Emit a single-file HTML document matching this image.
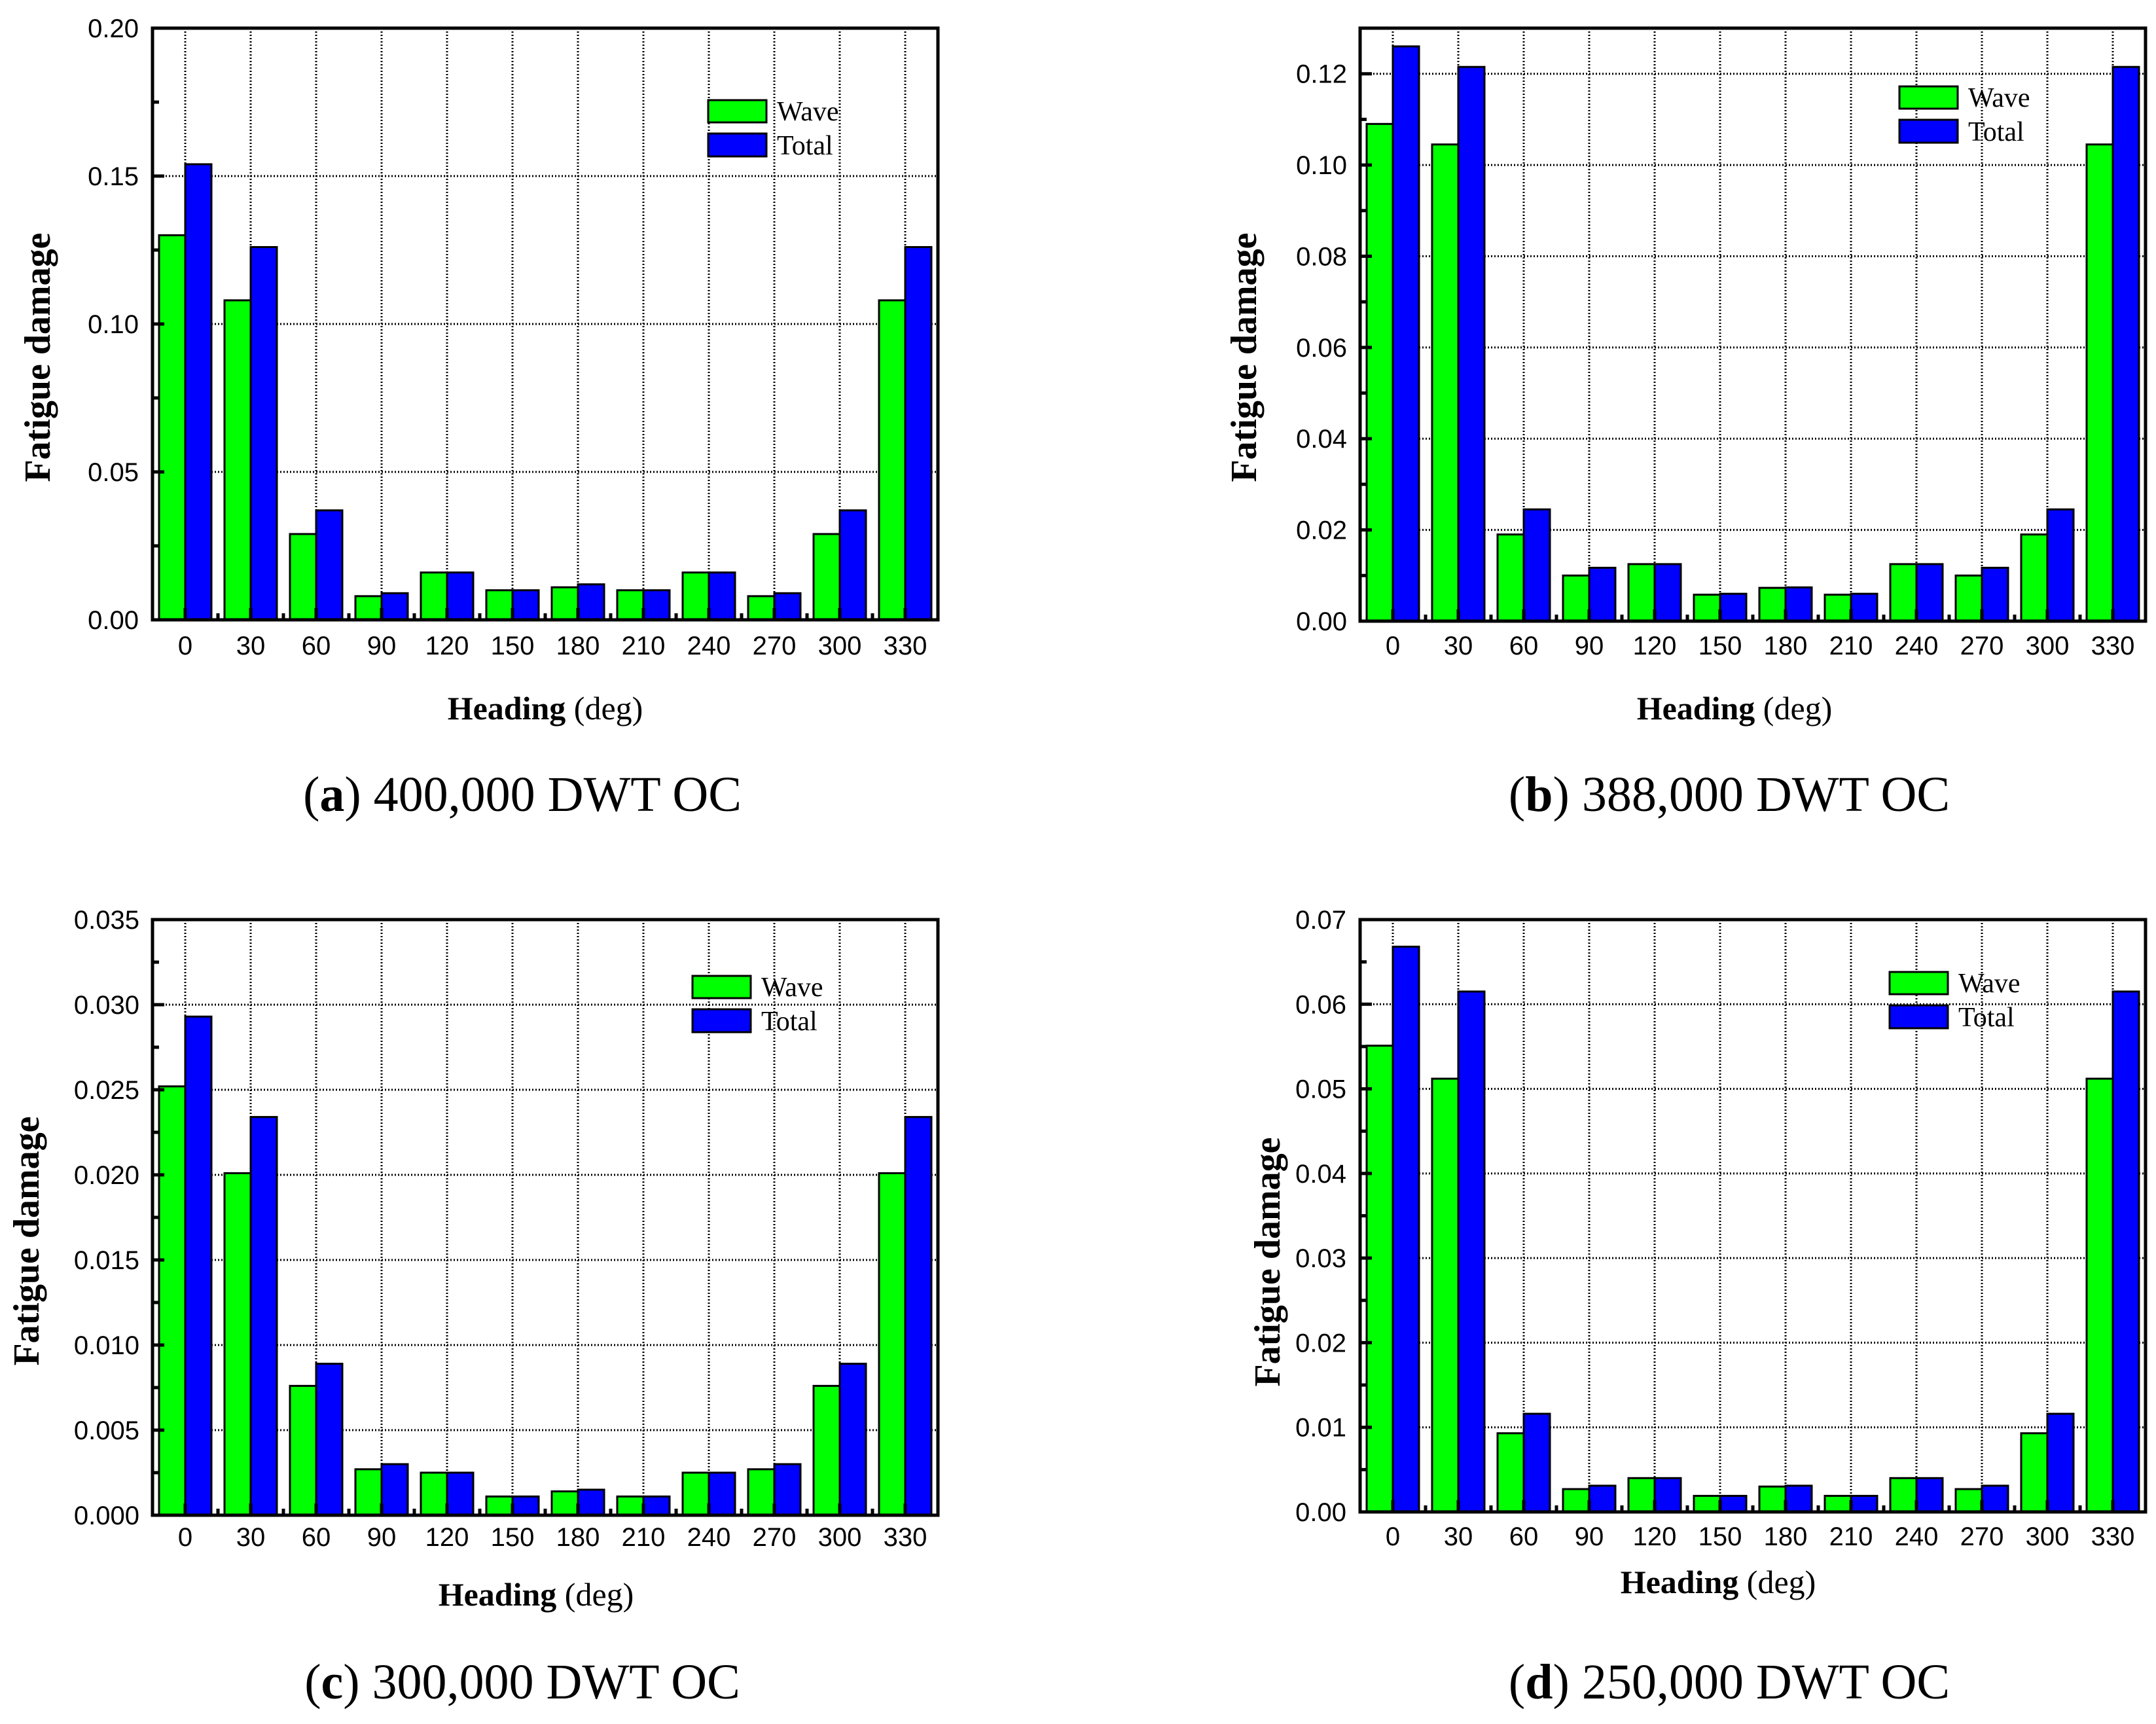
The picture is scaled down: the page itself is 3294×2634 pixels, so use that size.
<!DOCTYPE html>
<html><head><meta charset="utf-8">
<style>
html,body{margin:0;padding:0;background:#fff;}
svg{display:block;}
</style></head>
<body>
<svg id="fig" xmlns="http://www.w3.org/2000/svg" width="3294" height="2634" viewBox="0 0 3294 2634"></svg>
<script>
const categories = ["0","30","60","90","120","150","180","210","240","270","300","330"];
const waveA = [0.130,0.108,0.029,0.008,0.016,0.010,0.011,0.010,0.016,0.008,0.029,0.108];
const totalA = [0.154,0.126,0.037,0.009,0.016,0.010,0.012,0.010,0.016,0.009,0.037,0.126];
const waveB = [0.109,0.1045,0.019,0.010,0.0125,0.0058,0.0073,0.0058,0.0125,0.010,0.019,0.1045];
const totalB = [0.126,0.1215,0.0245,0.0117,0.0125,0.006,0.0074,0.006,0.0125,0.0117,0.0245,0.1215];
const waveC = [0.0252,0.0201,0.0076,0.0027,0.0025,0.0011,0.0014,0.0011,0.0025,0.0027,0.0076,0.0201];
const totalC = [0.0293,0.0234,0.0089,0.0030,0.0025,0.0011,0.0015,0.0011,0.0025,0.0030,0.0089,0.0234];
const waveD = [0.0551,0.0512,0.0093,0.0027,0.0040,0.0019,0.0030,0.0019,0.0040,0.0027,0.0093,0.0512];
const totalD = [0.0668,0.0615,0.0116,0.0031,0.0040,0.0019,0.0031,0.0019,0.0040,0.0031,0.0116,0.0615];
const ticksA = ["0.00","0.05","0.10","0.15","0.20"];
const ticksB = ["0.00","0.02","0.04","0.06","0.08","0.10","0.12"];
const ticksC = ["0.000","0.005","0.010","0.015","0.020","0.025","0.030","0.035"];
const ticksD = ["0.00","0.01","0.02","0.03","0.04","0.05","0.06","0.07"];
const captions = ["400,000 DWT OC","388,000 DWT OC","300,000 DWT OC","250,000 DWT OC"];

const NS = "http://www.w3.org/2000/svg";
const svg = document.getElementById('fig');
function mk(tag, attrs, parent, text){
  const e = document.createElementNS(NS, tag);
  for (const k in attrs) e.setAttribute(k, attrs[k]);
  if (text !== undefined) e.textContent = text;
  (parent||svg).appendChild(e);
  return e;
}

const panels = [
 {id:'a', L:233, T:43, B:947, max:0.20, minor:0.025, ticks:ticksA, wave:waveA, total:totalA,
  ylabR:212, ytX:57, ytY:546, xlY:986, htX:833, htY:1082, capX:798, capY:1212,
  legX:1082, legY:153},
 {id:'b', L:2078, T:43, B:949, max:0.13, minor:0.01, ticks:ticksB, wave:waveB, total:totalB,
  ylabR:2058, ytX:1900, ytY:546, xlY:986, htX:2650, htY:1082, capX:2642, capY:1212,
  legX:2902, legY:132},
 {id:'c', L:233, T:1405, B:2315, max:0.035, minor:0.0025, ticks:ticksC, wave:waveC, total:totalC,
  ylabR:213, ytX:40, ytY:1896, xlY:2348, htX:819, htY:2436, capX:798, capY:2568,
  legX:1058, legY:1491},
 {id:'d', L:2078, T:1405, B:2310, max:0.07, minor:0.005, ticks:ticksD, wave:waveD, total:totalD,
  ylabR:2057, ytX:1936, ytY:1928, xlY:2347, htX:2625, htY:2417, capX:2642, capY:2568,
  legX:2887, legY:1485}
];

panels.forEach((p, pi) => {
  const g = mk('g', {});
  
  
  const W = 1200, R = p.L + W;
  const y = v => p.B - (v / p.max) * (p.B - p.T);
  const xc = i => p.L + 50 + i * 100;

  const grid = mk('g', {stroke:'#000', 'stroke-width':3, 'stroke-dasharray':'2,3', fill:'none'}, g);
  
  
  categories.forEach((c, i) => mk('line', {x1:xc(i), x2:xc(i), y1:p.T, y2:p.B}, grid));
  p.ticks.forEach(t => { const v = parseFloat(t); if (v > 0 && v < p.max - 1e-9) mk('line', {x1:p.L, x2:R, y1:y(v), y2:y(v)}, grid); });

  categories.forEach((c, i) => {
    const bw = mk('rect', {x:xc(i)-40, y:y(p.wave[i]), width:40, height:p.B - y(p.wave[i]), fill:'#00ff00', stroke:'#000', 'stroke-width':3}, g);
    
    
    const bt = mk('rect', {x:xc(i), y:y(p.total[i]), width:40, height:p.B - y(p.total[i]), fill:'#0000ff', stroke:'#000', 'stroke-width':3}, g);
    
    
  });

  const fr = mk('rect', {x:p.L, y:p.T, width:W, height:p.B - p.T, fill:'none', stroke:'#000', 'stroke-width':5}, g);
  
  

  const tk = mk('g', {stroke:'#000', 'stroke-width':5}, g);
  
  
  for (let v = 0; v <= p.max + 1e-9; v += p.minor) {
    const isMajor = p.ticks.some(t => Math.abs(parseFloat(t) - v) < 1e-9);
    mk('line', {x1:p.L, x2:p.L + (isMajor ? 18 : 10), y1:y(v), y2:y(v)}, tk);
  }
  categories.forEach((c, i) => {
    mk('line', {x1:xc(i), x2:xc(i), y1:p.B, y2:p.B - 18}, tk);
    if (i > 0) mk('line', {x1:xc(i) - 50, x2:xc(i) - 50, y1:p.B, y2:p.B - 10}, tk);
  });

  p.ticks.forEach(t => {
    const e = mk('text', {x:p.ylabR, y:y(parseFloat(t)) + 14, 'text-anchor':'end', 'font-family':'Liberation Sans, sans-serif', 'font-size':40}, g, t);
    
    
  });
  categories.forEach((c, i) => {
    const e = mk('text', {x:xc(i), y:p.xlY + 14, 'text-anchor':'middle', 'font-family':'Liberation Sans, sans-serif', 'font-size':40}, g, c);
    
    
  });

  const yt = mk('text', {x:0, y:0, transform:`translate(${p.ytX + 19},${p.ytY}) rotate(-90)`, 'text-anchor':'middle', 'font-family':'Liberation Serif, serif', 'font-size':56, 'font-weight':'bold'}, g, 'Fatigue damage');
  
  
  const xt = mk('text', {x:p.htX, y:p.htY + 17, 'text-anchor':'middle', 'font-family':'Liberation Serif, serif', 'font-size':50}, g);
  
  
  mk('tspan', {'font-weight':'bold'}, xt, 'Heading');
  mk('tspan', {}, xt, ' (deg)');

  const cp = mk('text', {x:p.capX, y:p.capY + 27, 'text-anchor':'middle', 'font-family':'Liberation Serif, serif', 'font-size':76}, g);
  
  
  mk('tspan', {}, cp, '(');
  mk('tspan', {'font-weight':'bold'}, cp, p.id);
  mk('tspan', {}, cp, ') ' + captions[pi]);

  const lg = mk('g', {}, g);
  
  
  const lw = mk('rect', {x:p.legX, y:p.legY, width:89, height:34, fill:'#00ff00', stroke:'#000', 'stroke-width':3}, lg);
  
  
  const lt = mk('rect', {x:p.legX, y:p.legY + 51, width:89, height:35, fill:'#0000ff', stroke:'#000', 'stroke-width':3}, lg);
  
  
  const t1 = mk('text', {x:p.legX + 105, y:p.legY + 31, 'font-family':'Liberation Serif, serif', 'font-size':42}, lg, 'Wave');
  
  
  const t2 = mk('text', {x:p.legX + 105, y:p.legY + 83, 'font-family':'Liberation Serif, serif', 'font-size':42}, lg, 'Total');
  
  
});
</script>
</body></html>
